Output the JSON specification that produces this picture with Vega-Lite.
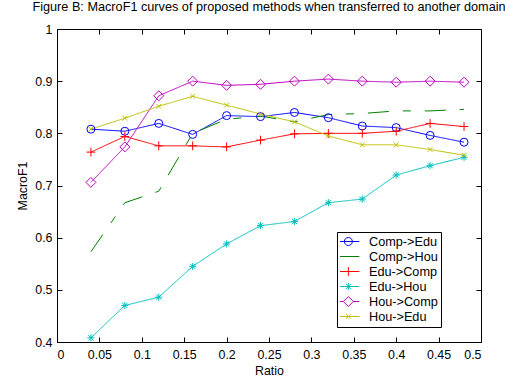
{
  "$schema": "https://vega.github.io/schema/vega-lite/v6.json",
  "width": 424,
  "height": 313,
  "autosize": {"type": "none"},
  "padding": {"left": 57, "top": 29, "right": 24, "bottom": 35},
  "background": "white",
  "title": {
    "text": "Figure B: MacroF1 curves of proposed methods when transferred to another domain",
    "font": "Liberation Sans",
    "fontSize": 12.7,
    "fontWeight": "normal",
    "color": "black",
    "anchor": "middle",
    "frame": "group",
    "baseline": "alphabetic",
    "offset": -1
  },
  "config": {
    "view": {"stroke": "black", "strokeWidth": 1},
    "axis": {
      "grid": false,
      "domain": false,
      "ticks": true,
      "tickColor": "black",
      "tickSize": -5,
      "tickWidth": 1,
      "labelColor": "black",
      "labelFont": "Liberation Sans",
      "labelFontSize": 12.4,
      "titleFont": "Liberation Sans",
      "titleFontSize": 12.4,
      "titleFontWeight": "normal",
      "titleColor": "black"
    },
    "legend": {
      "orient": "none",
      "legendX": 280,
      "legendY": 203,
      "padding": 3,
      "rowPadding": 1,
      "clipHeight": 13,
      "labelFont": "Liberation Sans",
      "labelFontSize": 12.7,
      "labelColor": "black",
      "title": null
    }
  },
  "data": {
    "values": [
      {"series": "Comp->Edu", "ratio": 0.04, "macroF1": 0.808},
      {"series": "Comp->Edu", "ratio": 0.08, "macroF1": 0.804},
      {"series": "Comp->Edu", "ratio": 0.12, "macroF1": 0.819},
      {"series": "Comp->Edu", "ratio": 0.16, "macroF1": 0.798},
      {"series": "Comp->Edu", "ratio": 0.20, "macroF1": 0.834},
      {"series": "Comp->Edu", "ratio": 0.24, "macroF1": 0.832},
      {"series": "Comp->Edu", "ratio": 0.28, "macroF1": 0.840},
      {"series": "Comp->Edu", "ratio": 0.32, "macroF1": 0.830},
      {"series": "Comp->Edu", "ratio": 0.36, "macroF1": 0.814},
      {"series": "Comp->Edu", "ratio": 0.40, "macroF1": 0.811},
      {"series": "Comp->Edu", "ratio": 0.44, "macroF1": 0.796},
      {"series": "Comp->Edu", "ratio": 0.48, "macroF1": 0.783},

      {"series": "Comp->Hou", "ratio": 0.04, "macroF1": 0.573},
      {"series": "Comp->Hou", "ratio": 0.08, "macroF1": 0.667},
      {"series": "Comp->Hou", "ratio": 0.12, "macroF1": 0.689},
      {"series": "Comp->Hou", "ratio": 0.16, "macroF1": 0.800},
      {"series": "Comp->Hou", "ratio": 0.20, "macroF1": 0.827},
      {"series": "Comp->Hou", "ratio": 0.24, "macroF1": 0.833},
      {"series": "Comp->Hou", "ratio": 0.28, "macroF1": 0.822},
      {"series": "Comp->Hou", "ratio": 0.32, "macroF1": 0.836},
      {"series": "Comp->Hou", "ratio": 0.36, "macroF1": 0.838},
      {"series": "Comp->Hou", "ratio": 0.40, "macroF1": 0.843},
      {"series": "Comp->Hou", "ratio": 0.44, "macroF1": 0.843},
      {"series": "Comp->Hou", "ratio": 0.48, "macroF1": 0.846},

      {"series": "Edu->Comp", "ratio": 0.04, "macroF1": 0.764},
      {"series": "Edu->Comp", "ratio": 0.08, "macroF1": 0.794},
      {"series": "Edu->Comp", "ratio": 0.12, "macroF1": 0.776},
      {"series": "Edu->Comp", "ratio": 0.16, "macroF1": 0.776},
      {"series": "Edu->Comp", "ratio": 0.20, "macroF1": 0.774},
      {"series": "Edu->Comp", "ratio": 0.24, "macroF1": 0.787},
      {"series": "Edu->Comp", "ratio": 0.28, "macroF1": 0.799},
      {"series": "Edu->Comp", "ratio": 0.32, "macroF1": 0.800},
      {"series": "Edu->Comp", "ratio": 0.36, "macroF1": 0.800},
      {"series": "Edu->Comp", "ratio": 0.40, "macroF1": 0.804},
      {"series": "Edu->Comp", "ratio": 0.44, "macroF1": 0.819},
      {"series": "Edu->Comp", "ratio": 0.48, "macroF1": 0.813},

      {"series": "Edu->Hou", "ratio": 0.04, "macroF1": 0.408},
      {"series": "Edu->Hou", "ratio": 0.08, "macroF1": 0.470},
      {"series": "Edu->Hou", "ratio": 0.12, "macroF1": 0.486},
      {"series": "Edu->Hou", "ratio": 0.16, "macroF1": 0.545},
      {"series": "Edu->Hou", "ratio": 0.20, "macroF1": 0.588},
      {"series": "Edu->Hou", "ratio": 0.24, "macroF1": 0.623},
      {"series": "Edu->Hou", "ratio": 0.28, "macroF1": 0.631},
      {"series": "Edu->Hou", "ratio": 0.32, "macroF1": 0.667},
      {"series": "Edu->Hou", "ratio": 0.36, "macroF1": 0.674},
      {"series": "Edu->Hou", "ratio": 0.40, "macroF1": 0.720},
      {"series": "Edu->Hou", "ratio": 0.44, "macroF1": 0.738},
      {"series": "Edu->Hou", "ratio": 0.48, "macroF1": 0.754},

      {"series": "Hou->Comp", "ratio": 0.04, "macroF1": 0.706},
      {"series": "Hou->Comp", "ratio": 0.08, "macroF1": 0.774},
      {"series": "Hou->Comp", "ratio": 0.12, "macroF1": 0.872},
      {"series": "Hou->Comp", "ratio": 0.16, "macroF1": 0.900},
      {"series": "Hou->Comp", "ratio": 0.20, "macroF1": 0.892},
      {"series": "Hou->Comp", "ratio": 0.24, "macroF1": 0.894},
      {"series": "Hou->Comp", "ratio": 0.28, "macroF1": 0.900},
      {"series": "Hou->Comp", "ratio": 0.32, "macroF1": 0.904},
      {"series": "Hou->Comp", "ratio": 0.36, "macroF1": 0.900},
      {"series": "Hou->Comp", "ratio": 0.40, "macroF1": 0.898},
      {"series": "Hou->Comp", "ratio": 0.44, "macroF1": 0.900},
      {"series": "Hou->Comp", "ratio": 0.48, "macroF1": 0.898},

      {"series": "Hou->Edu", "ratio": 0.04, "macroF1": 0.808},
      {"series": "Hou->Edu", "ratio": 0.08, "macroF1": 0.829},
      {"series": "Hou->Edu", "ratio": 0.12, "macroF1": 0.852},
      {"series": "Hou->Edu", "ratio": 0.16, "macroF1": 0.871},
      {"series": "Hou->Edu", "ratio": 0.20, "macroF1": 0.854},
      {"series": "Hou->Edu", "ratio": 0.24, "macroF1": 0.837},
      {"series": "Hou->Edu", "ratio": 0.28, "macroF1": 0.822},
      {"series": "Hou->Edu", "ratio": 0.32, "macroF1": 0.795},
      {"series": "Hou->Edu", "ratio": 0.36, "macroF1": 0.778},
      {"series": "Hou->Edu", "ratio": 0.40, "macroF1": 0.778},
      {"series": "Hou->Edu", "ratio": 0.44, "macroF1": 0.769},
      {"series": "Hou->Edu", "ratio": 0.48, "macroF1": 0.758}
    ]
  },
  "layer": [
    {
      "mark": {"type": "line", "strokeWidth": 1},
      "encoding": {
        "x": {
          "field": "ratio",
          "type": "quantitative",
          "scale": {"domain": [0, 0.5], "nice": false, "zero": false},
          "axis": {
            "orient": "bottom",
            "values": [0, 0.05, 0.1, 0.15, 0.2, 0.25, 0.3, 0.35, 0.4, 0.45, 0.5],
            "format": "~g",
            "labelPadding": 11,
            "title": "Ratio",
            "titlePadding": 4
          }
        },
        "y": {
          "field": "macroF1",
          "type": "quantitative",
          "scale": {"domain": [0.4, 1], "nice": false, "zero": false},
          "axis": {
            "orient": "left",
            "values": [0.4, 0.5, 0.6, 0.7, 0.8, 0.9, 1],
            "format": "~g",
            "labelPadding": 10,
            "title": "MacroF1",
            "titlePadding": 5
          }
        },
        "color": {
          "field": "series",
          "type": "nominal",
          "scale": {"range": ["#0000ff", "#008000", "#ff0000", "#00bfbf", "#bf00bf", "#bfbf00"]},
          "legend": {
            "symbolSize": 64,
            "symbolStrokeWidth": 1,
            "symbolOffset": 2,
            "labelOffset": 14.3,
            "strokeColor": "black",
            "encode": {
              "symbols": {
                "update": {
                  "fill": {"value": "transparent"},
                  "shape": {
                    "signal": "datum.value === 'Comp->Edu' ? 'M-2.75,0H2.75M1,0A1,1 0 1,1 -1,0A1,1 0 1,1 1,0' : datum.value === 'Edu->Comp' ? 'M-2.75,0H2.75M0,-1.1V1.1' : datum.value === 'Edu->Hou' ? 'M-2.75,0H2.75M0,-0.9V0.9M-0.65,-0.65L0.65,0.65M-0.65,0.65L0.65,-0.65' : datum.value === 'Hou->Comp' ? 'M-2.75,0H-1.25M1.25,0H2.75M0,-1.25L1.25,0L0,1.25L-1.25,0Z' : datum.value === 'Hou->Edu' ? 'M-2.75,0H2.75M-0.6,-0.6L0.6,0.6M-0.6,0.6L0.6,-0.6' : 'M-2.75,0H2.75'"
                  }
                }
              }
            }
          }
        },
        "strokeDash": {
          "field": "series",
          "type": "nominal",
          "scale": {
            "domain": ["Comp->Edu", "Comp->Hou", "Edu->Comp", "Edu->Hou", "Hou->Comp", "Hou->Edu"],
            "range": [[1, 0], [21, 14, 8, 14], [1, 0], [1, 0], [1, 0], [1, 0]]
          },
          "legend": null
        }
      }
    },
    {
      "mark": {"type": "point", "filled": false, "strokeWidth": 1, "size": 64, "opacity": 1},
      "encoding": {
        "x": {
          "field": "ratio",
          "type": "quantitative",
          "axis": {
            "orient": "top",
            "values": [0, 0.05, 0.1, 0.15, 0.2, 0.25, 0.3, 0.35, 0.4, 0.45, 0.5],
            "labels": false,
            "title": null
          }
        },
        "y": {
          "field": "macroF1",
          "type": "quantitative",
          "axis": {
            "orient": "right",
            "values": [0.4, 0.5, 0.6, 0.7, 0.8, 0.9, 1],
            "labels": false,
            "title": null
          }
        },
        "shape": {
          "field": "series",
          "type": "nominal",
          "scale": {
            "domain": ["Comp->Edu", "Comp->Hou", "Edu->Comp", "Edu->Hou", "Hou->Comp", "Hou->Edu"],
            "range": [
              "circle",
              "M0,0Z",
              "M-1.1,0H1.1M0,-1.1V1.1",
              "M-0.9,0H0.9M0,-0.9V0.9M-0.65,-0.65L0.65,0.65M-0.65,0.65L0.65,-0.65",
              "M0,-1.25L1.25,0L0,1.25L-1.25,0Z",
              "M-0.6,-0.6L0.6,0.6M-0.6,0.6L0.6,-0.6"
            ]
          },
          "legend": null
        },
        "stroke": {
          "field": "series",
          "type": "nominal",
          "scale": {
            "domain": ["Comp->Edu", "Comp->Hou", "Edu->Comp", "Edu->Hou", "Hou->Comp", "Hou->Edu"],
            "range": ["#0000ff", "#008000", "#ff0000", "#00bfbf", "#bf00bf", "#bfbf00"]
          },
          "legend": null
        }
      }
    }
  ],
  "resolve": {"axis": {"x": "independent", "y": "independent"}}
}
